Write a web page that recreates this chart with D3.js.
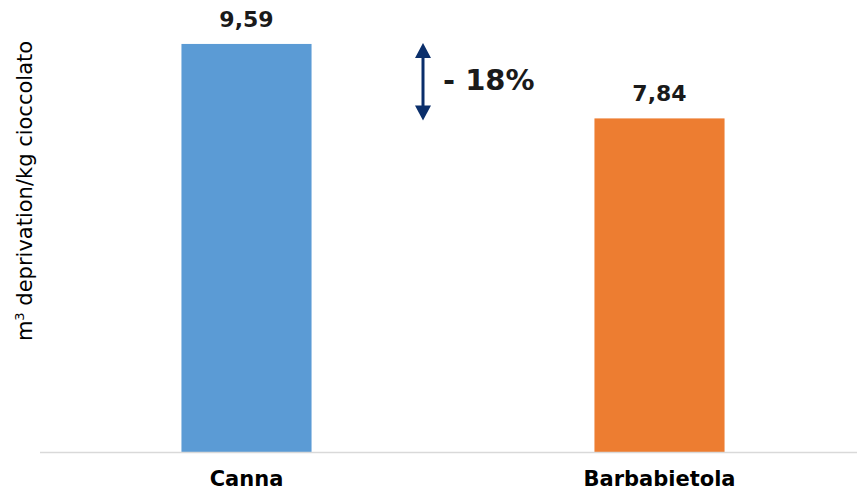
<!DOCTYPE html>
<html>
<head>
<meta charset="utf-8">
<script src="https://cdn.jsdelivr.net/npm/d3@7"></script>
<style>
  body { margin: 0; background: #fff; }
  text { font-family: "DejaVu Sans", Verdana, sans-serif; }
</style>
</head>
<body>
<div id="chart"></div>
<script>
// Data
const categories = ["Canna", "Barbabietola"];
const values = [9.59, 7.84];
const valueLabels = ["9,59", "7,84"];
const colors = ["#5b9bd5", "#ed7d31"];
const diffLabel = "- 18%";

// Dimensions
const width = 857;
const height = 490;
const baseY = 452;

const svg = d3
  .select("#chart")
  .append("svg")
  .attr("width", width)
  .attr("height", height);

// Scales
const xScale = d3
  .scaleBand()
  .domain(categories)
  .range([40, 866])
  .paddingInner(0.685)
  .paddingOuter(0.3425);

const yScale = d3.scaleLinear().domain([0, 10]).range([baseY, baseY - 425.5]);

// Bars
svg
  .selectAll("rect.bar")
  .data(values)
  .join("rect")
  .attr("class", "bar")
  .attr("x", (d, i) => xScale(categories[i]))
  .attr("y", (d) => yScale(d))
  .attr("width", xScale.bandwidth())
  .attr("height", (d) => baseY - yScale(d))
  .attr("fill", (d, i) => colors[i]);

// Value labels
svg
  .selectAll("text.val")
  .data(values)
  .join("text")
  .attr("class", "val")
  .attr("x", (d, i) => xScale(categories[i]) + xScale.bandwidth() / 2)
  .attr("y", (d) => yScale(d) - 17)
  .attr("text-anchor", "middle")
  .attr("font-size", 22)
  .attr("font-weight", "bold")
  .attr("fill", "#1a1a1a")
  .text((d, i) => valueLabels[i]);

// Axis
const xAxis = d3.axisBottom(xScale).tickSize(0).tickPadding(19);
const axisG = svg
  .append("g")
  .attr("transform", `translate(0, ${baseY})`)
  .call(xAxis);
axisG.select(".domain").remove();
axisG
  .selectAll("text")
  .attr("font-size", 21)
  .attr("font-weight", "bold")
  .attr("fill", "#000")
  .attr("font-family", "DejaVu Sans, Verdana, sans-serif");
svg
  .append("line")
  .attr("x1", 40)
  .attr("x2", width)
  .attr("y1", baseY + 0.5)
  .attr("y2", baseY + 0.5)
  .attr("stroke", "#d9d9d9")
  .attr("stroke-width", 1.5);

// Y label
const yLabel = svg
  .append("text")
  .attr("transform", `translate(32, ${191}) rotate(-90)`)
  .attr("text-anchor", "middle")
  .attr("font-size", 21)
  .attr("fill", "#000");
yLabel.append("tspan").text("m");
yLabel.append("tspan").attr("font-size", 13).attr("dy", -8).text("3");
yLabel.append("tspan").attr("dy", 8).text(" deprivation/kg cioccolato");

// Difference arrow
const arrowX = 423;
const yTop = yScale(values[0]) - 1;
const yBot = yScale(values[1]) + 2;
const headW = 8;
const headH = 15;
const arrowColor = "#0b2f6b";

svg
  .append("line")
  .attr("x1", arrowX)
  .attr("x2", arrowX)
  .attr("y1", yTop + headH - 1)
  .attr("y2", yBot - headH + 1)
  .attr("stroke", arrowColor)
  .attr("stroke-width", 3);

svg
  .append("path")
  .attr(
    "d",
    `M${arrowX},${yTop} L${arrowX + headW},${yTop + headH} L${arrowX - headW},${yTop + headH} Z`
  )
  .attr("fill", arrowColor);

svg
  .append("path")
  .attr(
    "d",
    `M${arrowX},${yBot} L${arrowX + headW},${yBot - headH} L${arrowX - headW},${yBot - headH} Z`
  )
  .attr("fill", arrowColor);

svg
  .append("text")
  .attr("x", 443)
  .attr("y", 90)
  .attr("font-size", 29)
  .attr("font-weight", "bold")
  .attr("fill", "#1a1a1a")
  .text(diffLabel);
</script>
</body>
</html>
